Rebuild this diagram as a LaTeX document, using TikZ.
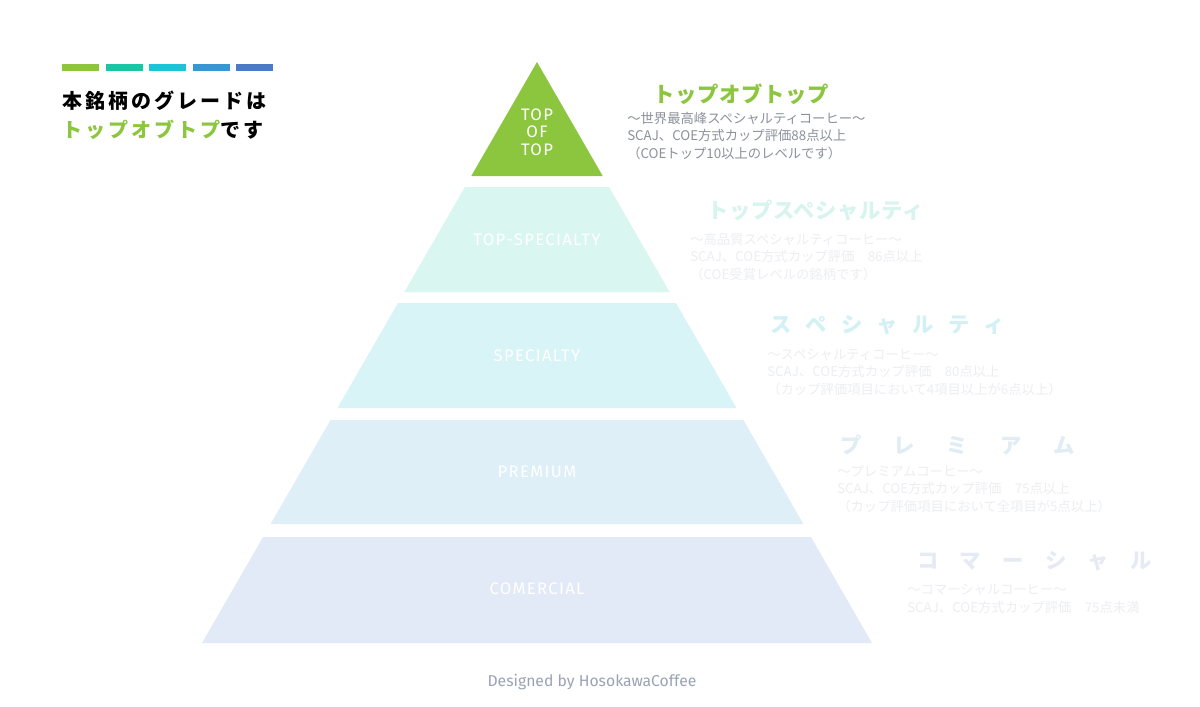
\documentclass[tikz,border=0pt]{standalone}
\usepackage{fontspec}
\setmainfont{Noto Sans CJK JP}
\newfontfamily\labelfont{Fira Sans}
\definecolor{topgreen}{HTML}{8CC63F}
\definecolor{barteal}{HTML}{1BC5A4}
\definecolor{barcyan}{HTML}{1DC3D6}
\definecolor{barblue}{HTML}{3598D5}
\definecolor{barnavy}{HTML}{4A7BCB}
\definecolor{tiermint}{HTML}{DAF6F1}
\definecolor{tiercyan}{HTML}{D8F4F6}
\definecolor{tiersky}{HTML}{DEEFF8}
\definecolor{tierhaze}{HTML}{E2EAF7}
\definecolor{titlemint}{HTML}{D8F4EE}
\definecolor{titlecyan}{HTML}{D3F1F5}
\definecolor{titlesky}{HTML}{E0EDF5}
\definecolor{titlehaze}{HTML}{E5EAF4}
\definecolor{subgray}{HTML}{8C919B}
\definecolor{fadegray}{HTML}{EDEEF1}
\definecolor{creditgray}{HTML}{9AA3B6}

\begin{document}
\begin{tikzpicture}[x=0.75pt,y=-0.75pt,
        tierlabel/.style={text=white,align=center,
            font=\labelfont\fontsize{12.5}{13}\selectfont\addfontfeature{LetterSpace=8}},
        rank/.style={anchor=west,inner sep=0pt,
            font=\bfseries\fontsize{16}{19}\selectfont\addfontfeature{LetterSpace=3}},
        note/.style={anchor=base west,align=left,inner sep=0pt,
            font=\fontsize{10}{13}\selectfont}]
        \useasboundingbox[fill=white] (0,0) rectangle (1200,707);
        % legend
        \foreach \col [count=\i from 0] in {topgreen,barteal,barcyan,barblue,barnavy}
        \fill[\col] (62+43.5*\i,64) rectangle +(37,6.5);
        \node[anchor=base west,inner sep=0pt,align=left,
            font=\bfseries\fontsize{15}{21.75}\selectfont\addfontfeature{LetterSpace=15}]
            (legend) at (62,137) {本銘柄のグレードは\\\textcolor{topgreen}{トップオブトプ}です};
        % pyramid
        \foreach \ya/\yb/\col/\ly/\tier/\lbl in {62/176/topgreen/132/toptop/{TOP\\OF\\TOP},
            187/292/tiermint/240/topspec/TOP-SPECIALTY,303/408/tiercyan/356/spec/SPECIALTY,
            420/524/tiersky/472/premium/PREMIUM,537/643/tierhaze/589/comercial/COMERCIAL}{
            \pgfmathsetmacro\wt{0.5766*(\ya-62)}
            \pgfmathsetmacro\wb{0.5766*(\yb-62)}
            \fill[\col] (537-\wt,\ya) -- (537+\wt,\ya) -- (537+\wb,\yb) -- (537-\wb,\yb) -- cycle;
            \node[tierlabel] (\tier) at (537,\ly) {\lbl};
        }
        % grades
        \node[rank,text=topgreen] (toptoptitle) at (653,94) {トップオブトップ};
        \node[note,text=subgray] (toptopnote) at (627,158)
            {～世界最高峰スペシャルティコーヒー～\\SCAJ、COE方式カップ評価88点以上\\（COEトップ10以上のレベルです）};
        \node[rank,text=titlemint] (topspectitle) at (707,210) {トップスペシャルティ};
        \node[note,text=fadegray] (topspecnote) at (690,279)
            {～高品質スペシャルティコーヒー～\\SCAJ、COE方式カップ評価　86点以上\\（COE受賞レベルの銘柄です）};
        \node[rank,text=titlecyan] (spectitle) at (770,325)
            {\makebox[176pt][s]{ス ペ シ ャ ル テ ィ}};
        \node[note,text=fadegray] (specnote) at (767,394)
            {～スペシャルティコーヒー～\\SCAJ、COE方式カップ評価　80点以上\\（カップ評価項目において4項目以上が6点以上）};
        \node[rank,text=titlesky] (premiumtitle) at (840,445)
            {\makebox[176pt][s]{プ レ ミ ア ム}};
        \node[note,text=fadegray] (premiumnote) at (837,511)
            {～プレミアムコーヒー～\\SCAJ、COE方式カップ評価　75点以上\\（カップ評価項目において全項目が5点以上）};
        \node[rank,text=titlehaze] (comercialtitle) at (917,561)
            {\makebox[176pt][s]{コ マ ー シ ャ ル}};
        \node[note,text=fadegray] (comercialnote) at (907,612)
            {～コマーシャルコーヒー～\\SCAJ、COE方式カップ評価　75点未満};
        \node[text=creditgray,font=\labelfont\fontsize{11.8}{14}\selectfont] (credit) at (592,682)
            {Designed by HosokawaCoffee};
    \end{tikzpicture}
\end{document}
